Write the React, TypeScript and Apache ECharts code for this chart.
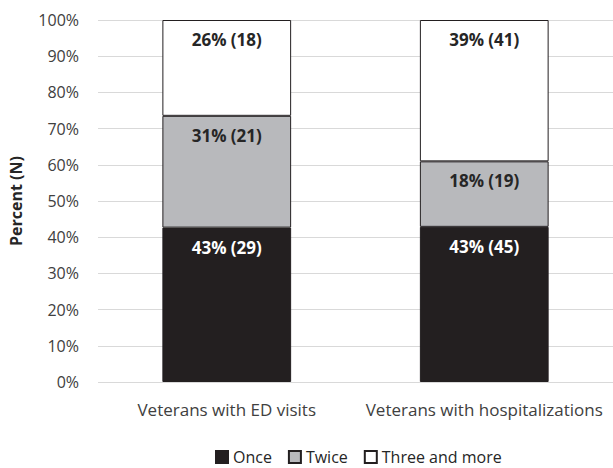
import React, { useEffect, useRef } from "react";
import * as echarts from "echarts";

const categories = ["Veterans with ED visits", "Veterans with hospitalizations"];
const seriesNames = ["Once", "Twice", "Three and more"];
const onceCounts = [29, 45];
const twiceCounts = [21, 19];
const threeCounts = [18, 41];
const onceLabels = ["43% (29)", "43% (45)"];
const twiceLabels = ["31% (21)", "18% (19)"];
const threeLabels = ["26% (18)", "39% (41)"];
const yTicks = [0, 10, 20, 30, 40, 50, 60, 70, 80, 90, 100];

const FONT = "'Open Sans', 'Noto Sans', sans-serif";

export default function App() {
  const ref = useRef<HTMLDivElement>(null);
  useEffect(() => {
    if (!ref.current) return;
    const chart = echarts.init(ref.current, undefined, { renderer: "svg" });
    const totals = categories.map((_, i) => onceCounts[i] + twiceCounts[i] + threeCounts[i]);
    const pct = (arr: number[]) => arr.map((v, i) => (v / totals[i]) * 100);
    const mk = (name: string, counts: number[], labels: string[], color: string, textColor: string) => ({
      name,
      type: "bar",
      stack: "total",
      barWidth: "50%",
      data: pct(counts),
      itemStyle: { color, borderColor: "#231f20", borderWidth: 1 },
      label: {
        show: true,
        position: "insideTop",
        distance: 11,
        formatter: (p: any) => labels[p.dataIndex],
        color: textColor,
        fontFamily: FONT,
        fontWeight: "bold",
        fontSize: 17,
      },
    });
    chart.setOption({
      animation: false,
      grid: { left: 96, right: 0, top: 20, bottom: 86 },
      legend: {
        top: 444,
        left: 210,
        textStyle: { fontFamily: FONT, fontSize: 16, color: "#262626" },
        itemWidth: 12,
        itemHeight: 12,
        itemGap: 16,
        icon: "rect",
        data: seriesNames,
      },
      xAxis: {
        type: "category",
        data: categories,
        axisLine: { show: false },
        axisTick: { show: false },
        axisLabel: { fontFamily: FONT, fontSize: 17, color: "#404040", margin: 19, interval: 0 },
      },
      yAxis: {
        type: "value",
        min: 0,
        max: 100,
        interval: 10,
        name: "Percent (N)",
        nameLocation: "middle",
        nameGap: 74,
        nameRotate: 90,
        nameTextStyle: { fontFamily: FONT, fontSize: 16, fontWeight: "bold", color: "#262626" },
        axisLine: { show: false },
        axisTick: { show: false },
        splitLine: { lineStyle: { color: "#d9d9d9", width: 1 } },
        axisLabel: {
          fontFamily: FONT,
          fontSize: 16,
          color: "#404040",
          margin: 19,
          formatter: (v: number) => (yTicks.includes(v) ? v + "%" : ""),
        },
      },
      series: [
        mk(seriesNames[0], onceCounts, onceLabels, "#231f20", "#ffffff"),
        mk(seriesNames[1], twiceCounts, twiceLabels, "#b8b9bc", "#262626"),
        mk(seriesNames[2], threeCounts, threeLabels, "#ffffff", "#262626"),
      ],
    });
    return () => chart.dispose();
  }, []);
  return <div ref={ref} style={{ width: 613, height: 468, position: "absolute", left: 0, top: 0 }} />;
}
